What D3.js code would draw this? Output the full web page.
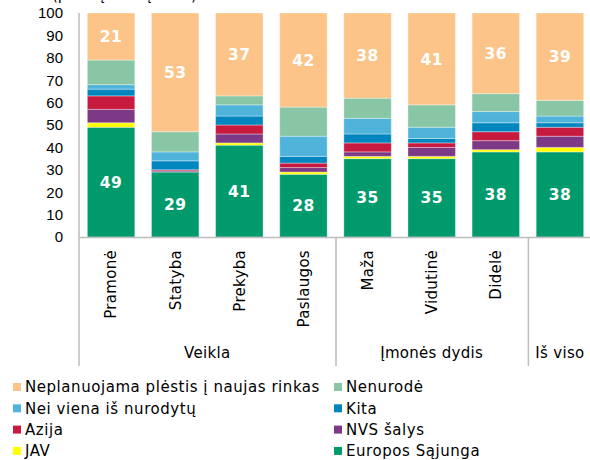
<!DOCTYPE html>
<html>
<head>
<meta charset="utf-8">
<script src="https://cdn.jsdelivr.net/npm/d3@7"></script>
<style>
  body { margin: 0; background: #fff; }
  svg { font-family: "DejaVu Sans", Verdana, sans-serif; }
  .tick text { font-size: 15px; fill: #000; }
</style>
</head>
<body>
<div class="chart"></div>
<script>
// categories (last bar has no rotated label)
var categories = ["Pramonė", "Statyba", "Prekyba", "Paslaugos", "Maža", "Vidutinė", "Didelė", ""];
var groupNames = ["Veikla", "Įmonės dydis", "Iš viso"];
var groupSizes = [4, 3, 1];
var yTicks = [0, 10, 20, 30, 40, 50, 60, 70, 80, 90, 100];

// series, bottom to top
var seriesNames = ["Europos Sąjunga", "JAV", "NVS šalys", "Azija", "Kita",
  "Nei viena iš nurodytų", "Nenurodė", "Neplanuojama plėstis į naujas rinkas"];
var eu           = [49, 29, 41, 28, 35, 35, 38, 38];
var jav          = [2, 0, 1, 1, 1, 1, 1, 2];
var nvs          = [6, 0.5, 4, 2, 2, 4, 4, 5];
var azija        = [6, 0.5, 4, 2, 4, 2, 4, 4];
var kita         = [3, 4, 4, 3, 4, 2, 4, 2];
var neiViena     = [2, 4, 5, 9, 7, 5, 5, 3];
var nenurode     = [11, 9, 4, 13, 9, 10, 8, 7];
var neplanuojama = [21, 53, 37, 42, 38, 41, 36, 39];

var colorrange = ["#009a6c", "#ffff00", "#7d3985", "#c8193f", "#0086bf", "#4fb3da", "#88c6a6", "#fcc488"];

var seriesValues = [eu, jav, nvs, azija, kita, neiViena, nenurode, neplanuojama];
var labelled = [0, 7]; // series with value labels

var width = 590, height = 460;

var svg = d3.select(".chart").append("svg")
  .attr("width", width)
  .attr("height", height);

// table for d3.stack
var data = categories.map(function(c, i) {
  var row = {idx: i};
  seriesNames.forEach(function(s, k) { row[s] = seriesValues[k][i]; });
  return row;
});

var x = d3.scaleBand()
  .domain(d3.range(categories.length))
  .range([79, 592])
  .paddingInner(0.26)
  .paddingOuter(0.13);

var y = d3.scaleLinear().domain([0, 100]).range([237, 13]);

var z = d3.scaleOrdinal().domain(seriesNames).range(colorrange);

// unit note, cut off by the top edge as in the source
svg.append("text")
  .attr("x", 52)
  .attr("y", 0)
  .style("font-size", "15px")
  .text("(proc. įmonių dalis)");

var stack = d3.stack().keys(seriesNames);
var series = stack(data);

svg.selectAll(".serie")
  .data(series)
  .enter().append("g")
    .attr("class", "serie")
    .attr("fill", function(d) { return z(d.key); })
  .selectAll("rect")
  .data(function(d) { return d; })
  .enter().append("rect")
    .attr("x", function(d) { return x(d.data.idx); })
    .attr("y", function(d) { return y(d[1]); })
    .attr("height", function(d) { return y(d[0]) - y(d[1]); })
    .attr("width", x.bandwidth())
    .attr("stroke", "#ffffff")
    .attr("stroke-opacity", 0.35)
    .attr("stroke-width", 1);

// value labels
labelled.forEach(function(k) {
  svg.append("g").selectAll("text")
    .data(series[k])
    .enter().append("text")
      .attr("x", function(d) { return x(d.data.idx) + x.bandwidth() / 2; })
      .attr("y", function(d) { return (y(d[0]) + y(d[1])) / 2; })
      .attr("dy", "0.36em")
      .attr("text-anchor", "middle")
      .attr("fill", "#fff")
      .style("font-size", "15.5px")
      .style("font-weight", "bold")
      .style("letter-spacing", "0.5px")
      .text(function(d) { return Math.round(d[1] - d[0]); });
});

// y axis
var yA = d3.axisLeft(y).tickValues(yTicks).tickSize(0).tickPadding(16);
var gy = svg.append("g")
  .attr("transform", "translate(79,0)")
  .call(yA);
gy.select(".domain").remove();

// axis lines
var lineColor = "#bdbdbd";
svg.append("line")
  .attr("x1", 79).attr("x2", 592)
  .attr("y1", 237.5).attr("y2", 237.5)
  .attr("stroke", lineColor).attr("stroke-width", 1.5);

// group separators, the first one doubles as the y axis
var bounds = [0];
groupSizes.forEach(function(n, i) { bounds.push(bounds[i] + n); });
var step = x.step();
var sepX = bounds.slice(0, groupSizes.length).map(function(b) {
  return x.range()[0] + b * step;
});
svg.selectAll(".sep")
  .data(sepX)
  .enter().append("line")
    .attr("class", "sep")
    .attr("x1", function(d, i) { return i == 0 ? d : d + 0.5; })
    .attr("x2", function(d, i) { return i == 0 ? d : d + 0.5; })
    .attr("y1", function(d, i) { return i == 0 ? 13 : 237; })
    .attr("y2", 366)
    .attr("stroke", lineColor)
    .attr("stroke-width", 1.5);

// rotated category labels
svg.append("g").selectAll("text")
  .data(categories)
  .enter().append("text")
    .attr("transform", function(d, i) {
      return "translate(" + (x(i) + x.bandwidth() / 2) + ",250) rotate(-90)";
    })
    .attr("dy", "0.36em")
    .attr("text-anchor", "end")
    .style("font-size", "15px")
    .style("letter-spacing", "0.3px")
    .text(function(d) { return d; });

// group labels
svg.append("g").selectAll("text")
  .data(groupNames)
  .enter().append("text")
    .attr("x", function(d, i) {
      var a = x.range()[0] + bounds[i] * step, b = x.range()[0] + bounds[i + 1] * step;
      return (a + b) / 2;
    })
    .attr("y", 358)
    .attr("text-anchor", "middle")
    .style("font-size", "15px")
    .style("letter-spacing", "0.3px")
    .text(function(d) { return d; });

// legend, two columns, top series first
var legendItems = seriesNames.slice().reverse();
var legend = svg.selectAll(".legend")
  .data(legendItems)
  .enter().append("g")
    .attr("class", "legend")
    .attr("transform", function(d, i) {
      return "translate(" + (i % 2 == 0 ? 13 : 334) + "," + (387 + Math.floor(i / 2) * 21.3) + ")";
    });

legend.append("rect")
  .attr("x", 0)
  .attr("y", -4)
  .attr("width", 8)
  .attr("height", 8)
  .attr("fill", z);

legend.append("text")
  .attr("x", 12)
  .attr("y", 0)
  .attr("dy", "0.36em")
  .style("font-size", "15px")
  .style("letter-spacing", "0.55px")
  .text(function(d) { return d; });
</script>
</body>
</html>
